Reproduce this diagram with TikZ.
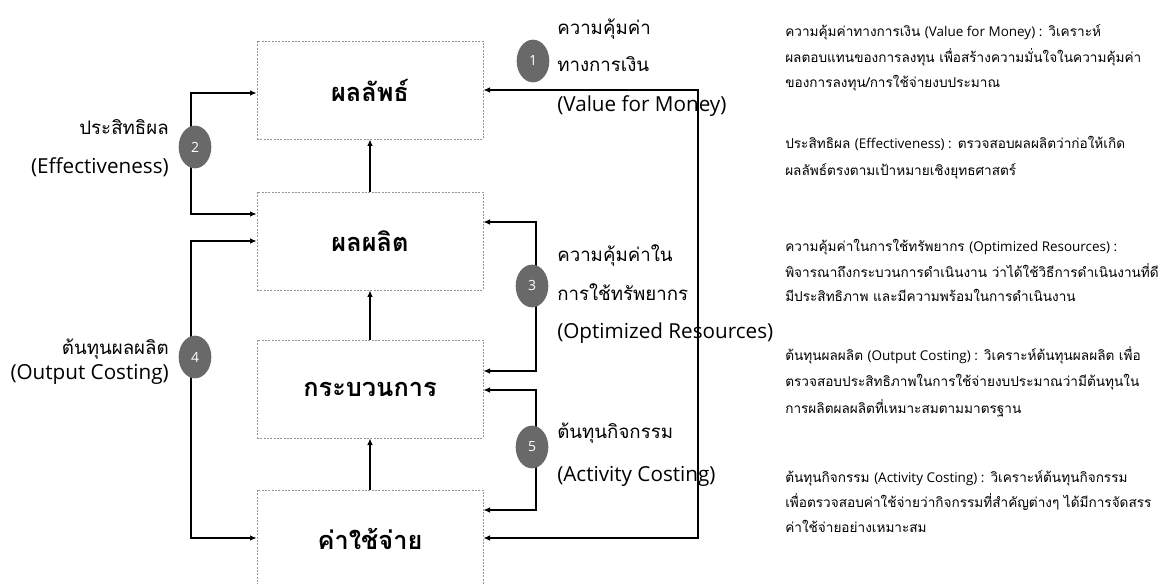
\documentclass[tikz,border=0pt]{standalone}
\usepackage{fontspec}
\setmainfont[Script=Thai]{Loma}
\newfontfamily\latinface{Open Sans}
\usetikzlibrary{shapes.geometric,calc,arrows.meta}
\definecolor{numgray}{RGB}{105,105,105}
\definecolor{boxedge}{RGB}{150,150,150}
\newcommand\LatD[1]{{\fontsize{10.1}{12}\latinface #1}}
\begin{document}
\begin{tikzpicture}[x=0.75pt,y=-0.75pt,
  box/.style={draw=boxedge, dash pattern=on 1.5pt off 1pt, line width=0.5pt,
    minimum width=169.5pt, minimum height=73.5pt, inner sep=0pt,
    font=\fontsize{19}{21}\selectfont\bfseries},
  conn/.style={line width=1.3pt, {Latex[length=5pt,width=4.2pt]}-{Latex[length=5pt,width=4.2pt]}},
  upar/.style={line width=1.3pt, -{Latex[length=5pt,width=4.2pt]}},
  num/.style={ellipse, fill=numgray, text=white, minimum width=24.5pt, minimum height=32pt,
    inner sep=0pt, font=\fontsize{10.5}{12}\latinface},
  lblT/.style={font=\fontsize{14}{16}\selectfont, inner sep=0pt},
  lblL/.style={font=\fontsize{15.5}{18}\latinface, inner sep=0pt},
  desc/.style={font=\fontsize{10.2}{13}\selectfont, inner sep=0pt, anchor=base west}]
\useasboundingbox (0,0) rectangle (1163,584);
% boxes
\node[box] (b1) at (370,90) {ผลลัพธ์};
\node[box] (b2) at (370,241) {ผลผลิต};
\node[box] (b3) at (370,389) {กระบวนการ};
\node[box] (b4) at (370,539) {ค่าใช้จ่าย};
% labels
\node[lblT,anchor=east] (l2a) at (169,127) {ประสิทธิผล};
\node[lblL,anchor=east] (l2b) at (169,167) {(Effectiveness)};
\node[lblT,anchor=east] (l4a) at (169,349) {ต้นทุนผลผลิต};
\node[lblL,anchor=east] (l4b) at (169,374) {(Output Costing)};
\node[lblT,anchor=west] (l1a) at (557,29) {ความคุ้มค่า};
\node[lblT,anchor=west] (l1b) at (557,64) {ทางการเงิน};
\node[lblL,anchor=west] (l1c) at (557,106) {(Value for Money)};
\node[lblT,anchor=west] (l3a) at (557,256) {ความคุ้มค่าใน};
\node[lblT,anchor=west] (l3b) at (557,292) {การใช้ทรัพยากร};
\node[lblL,anchor=west] (l3c) at (557,333) {(Optimized Resources)};
\node[lblT,anchor=west] (l5a) at (557,433) {ต้นทุนกิจกรรม};
\node[lblL,anchor=west] (l5b) at (557,476) {(Activity Costing)};
% vertical arrows
\draw[upar] (b2.north) -- (b1.south);
\draw[upar] (b3.north) -- (b2.south);
\draw[upar] (b4.north) -- (b3.south);
% connectors
\draw[conn] ($(b1.west)+(0,3)$) -| ($(b2.west)+(-66,-27)$) -- ($(b2.west)+(0,-27)$);
\draw[conn] (b2.west) -| ($(b4.west)+(-66,-1)$) -- ($(b4.west)+(0,-1)$);
\draw[conn] (b1.east) -| ($(b4.east)+(215,-1)$) -- ($(b4.east)+(0,-1)$);
\draw[conn] ($(b2.east)+(0,-19)$) -| ($(b3.east)+(53,-18)$) -- ($(b3.east)+(0,-18)$);
\draw[conn] ($(b3.east)+(0,1)$) -| ($(b4.east)+(53,-29)$) -- ($(b4.east)+(0,-29)$);
% numbered markers
\node[num] (c1) at (533,61) {1};
\node[num] (c2) at (195,147) {2};
\node[num] (c3) at (532,286) {3};
\node[num] (c4) at (195,357) {4};
\node[num] (c5) at (532,447) {5};
% descriptions
\node[desc] (p1a) at (785,37) {ความคุ้มค่าทางการเงิน \LatD{(Value for Money) :} วิเคราะห์};
\node[desc] (p1b) at (785,63) {ผลตอบแทนของการลงทุน เพื่อสร้างความมั่นใจในความคุ้มค่า};
\node[desc] (p1c) at (785,88) {ของการลงทุน/การใช้จ่ายงบประมาณ};
\node[desc] (p2a) at (785,149) {ประสิทธิผล \LatD{(Effectiveness) :} ตรวจสอบผลผลิตว่าก่อให้เกิด};
\node[desc] (p2b) at (785,176) {ผลลัพธ์ตรงตามเป้าหมายเชิงยุทธศาสตร์};
\node[desc] (p3a) at (785,252) {ความคุ้มค่าในการใช้ทรัพยากร \LatD{(Optimized Resources) :}};
\node[desc] (p3b) at (785,278) {พิจารณาถึงกระบวนการดำเนินงาน ว่าได้ใช้วิธีการดำเนินงานที่ดี};
\node[desc] (p3c) at (785,302) {มีประสิทธิภาพ และมีความพร้อมในการดำเนินงาน};
\node[desc] (p4a) at (785,360) {ต้นทุนผลผลิต \LatD{(Output Costing) :} วิเคราะห์ต้นทุนผลผลิต เพื่อ};
\node[desc] (p4b) at (785,387) {ตรวจสอบประสิทธิภาพในการใช้จ่ายงบประมาณว่ามีต้นทุนใน};
\node[desc] (p4c) at (785,413) {การผลิตผลผลิตที่เหมาะสมตามมาตรฐาน};
\node[desc] (p5a) at (785,482) {ต้นทุนกิจกรรม \LatD{(Activity Costing) :} วิเคราะห์ต้นทุนกิจกรรม};
\node[desc] (p5b) at (785,507) {เพื่อตรวจสอบค่าใช้จ่ายว่ากิจกรรมที่สำคัญต่างๆ ได้มีการจัดสรร};
\node[desc] (p5c) at (785,532) {ค่าใช้จ่ายอย่างเหมาะสม};
\end{tikzpicture}
\end{document}
